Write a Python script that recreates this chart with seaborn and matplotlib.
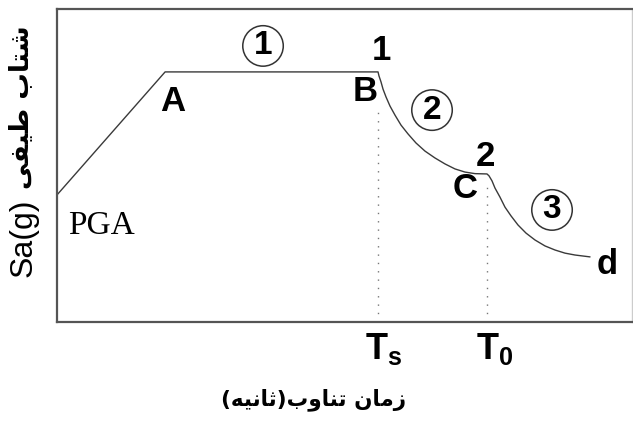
import matplotlib
matplotlib.use("Agg")
import matplotlib.pyplot as plt
import pandas as pd
import seaborn as sns

# ---- data (arbitrary units: period on x, spectral acceleration on y) ----
period = [0.0, 1.88,
          5.583, 5.600, 5.635, 5.670, 5.722, 5.791, 5.878, 5.983, 6.104, 6.243,
          6.400, 6.574, 6.748, 6.922, 7.096, 7.270, 7.478,
          7.513, 7.565, 7.617, 7.704, 7.791, 7.896, 8.017, 8.157, 8.313, 8.487,
          8.661, 8.835, 9.009, 9.270]
sa = [4.06, 7.99,
      7.99, 7.86, 7.67, 7.44, 7.19, 6.90, 6.61, 6.29, 6.01, 5.72,
      5.46, 5.24, 5.05, 4.89, 4.79, 4.74, 4.73,
      4.67, 4.51, 4.28, 3.99, 3.67, 3.39, 3.10, 2.84, 2.62, 2.43,
      2.30, 2.20, 2.14, 2.08]

# dotted guide lines at Ts and T0
guide_x = [5.583, 7.478]
guide_top = [6.84, 4.31]

# point labels
point_labels = ["A", "B", "C", "1", "2", "d"]
point_x = [2.017, 5.357, 7.096, 5.635, 7.443, 9.565]
point_y = [7.03, 7.35, 4.25, 8.69, 5.30, 1.85]

# circled zone numbers
zone_labels = ["1", "2", "3"]
zone_x = [3.583, 6.522, 8.609]
zone_y = [8.82, 6.77, 3.58]

# period tick labels below the axis
tick_labels = [r"$\mathbf{T_s}$", r"$\mathbf{T_0}$"]
tick_x = [5.687, 7.617]

# Persian axis titles (presentation forms, visual order)
xlabel_fa = ("(\uFEEA\uFEF4\uFEE7\uFE8E\uFE9B)"
             "\uFE8F\uFEED\uFE8E\uFEE8\uFE97 \uFEE5\uFE8E\uFEE3\uFEAF")   # زمان تناوب(ثانیه)
ylabel_fa = "\uFEF0\uFED4\uFEF4\uFEC3 \uFE8F\uFE8E\uFE98\uFEB7"          # شتاب طیفی
ylabel_en = "Sa(g)"

sns.set_theme(style="white")
plt.rcParams["font.family"] = ["Liberation Sans", "DejaVu Sans"]
plt.rcParams["mathtext.fontset"] = "custom"
plt.rcParams["mathtext.rm"] = "Liberation Sans"
plt.rcParams["mathtext.bf"] = "Liberation Sans:bold"

fig = plt.figure(figsize=(6.33, 4.23), dpi=100)
ax = fig.add_axes([57 / 633, 1 - 322 / 423, 575 / 633, 313 / 423])

df = pd.DataFrame({"period": period, "sa": sa})
sns.lineplot(data=df, x="period", y="sa", sort=False, estimator=None,
             color="#3a3a3a", linewidth=1.0, ax=ax)

for gx, gt in zip(guide_x, guide_top):
    ax.vlines(gx, 0, gt, colors="#777777", linestyles=(0, (1, 5)), linewidth=1.0)

ax.set_xlim(0, 10)
ax.set_ylim(0, 10)
ax.set_xticks([])
ax.set_yticks([])
ax.set_xlabel("")
ax.set_ylabel("")
for side in ["left", "bottom", "top"]:
    ax.spines[side].set_color("#555555")
    ax.spines[side].set_linewidth(1.6)
ax.spines["right"].set_color("#cccccc")
ax.spines["right"].set_linewidth(1.0)

for lab, x, y in zip(point_labels, point_x, point_y):
    ax.text(x, y, lab, fontsize=25, fontweight="bold", ha="center", va="center",
            color="black", family="Liberation Sans")

ax.text(0.765, 3.07, "PGA", fontsize=24, ha="center", va="center",
        family="Liberation Serif", color="black")

ax.scatter(zone_x, zone_y, s=850, facecolors="none", edgecolors="#333333",
           linewidths=1.1, zorder=3)
for lab, x, y in zip(zone_labels, zone_x, zone_y):
    ax.text(x, y, lab, fontsize=24, fontweight="bold", ha="center", va="center",
            color="black", family="Liberation Sans", zorder=4)

for lab, x in zip(tick_labels, tick_x):
    ax.text(x, -0.85, lab, fontsize=26, ha="center", va="center",
            color="black", clip_on=False)

fig.text(314 / 633, 1 - 400 / 423, xlabel_fa, fontsize=15.5, fontweight="bold",
         family="DejaVu Sans", ha="center", va="center", color="black")
fig.text(22 / 633, 1 - 107 / 423, ylabel_fa, fontsize=19, fontweight="bold",
         family="DejaVu Sans", ha="center", va="center", rotation=90, color="black")
fig.text(24 / 633, 1 - 238 / 423, ylabel_en, fontsize=23,
         family="Liberation Sans", ha="center", va="center", rotation=90, color="black")

fig.savefig("out.png", dpi=100, facecolor="white")
